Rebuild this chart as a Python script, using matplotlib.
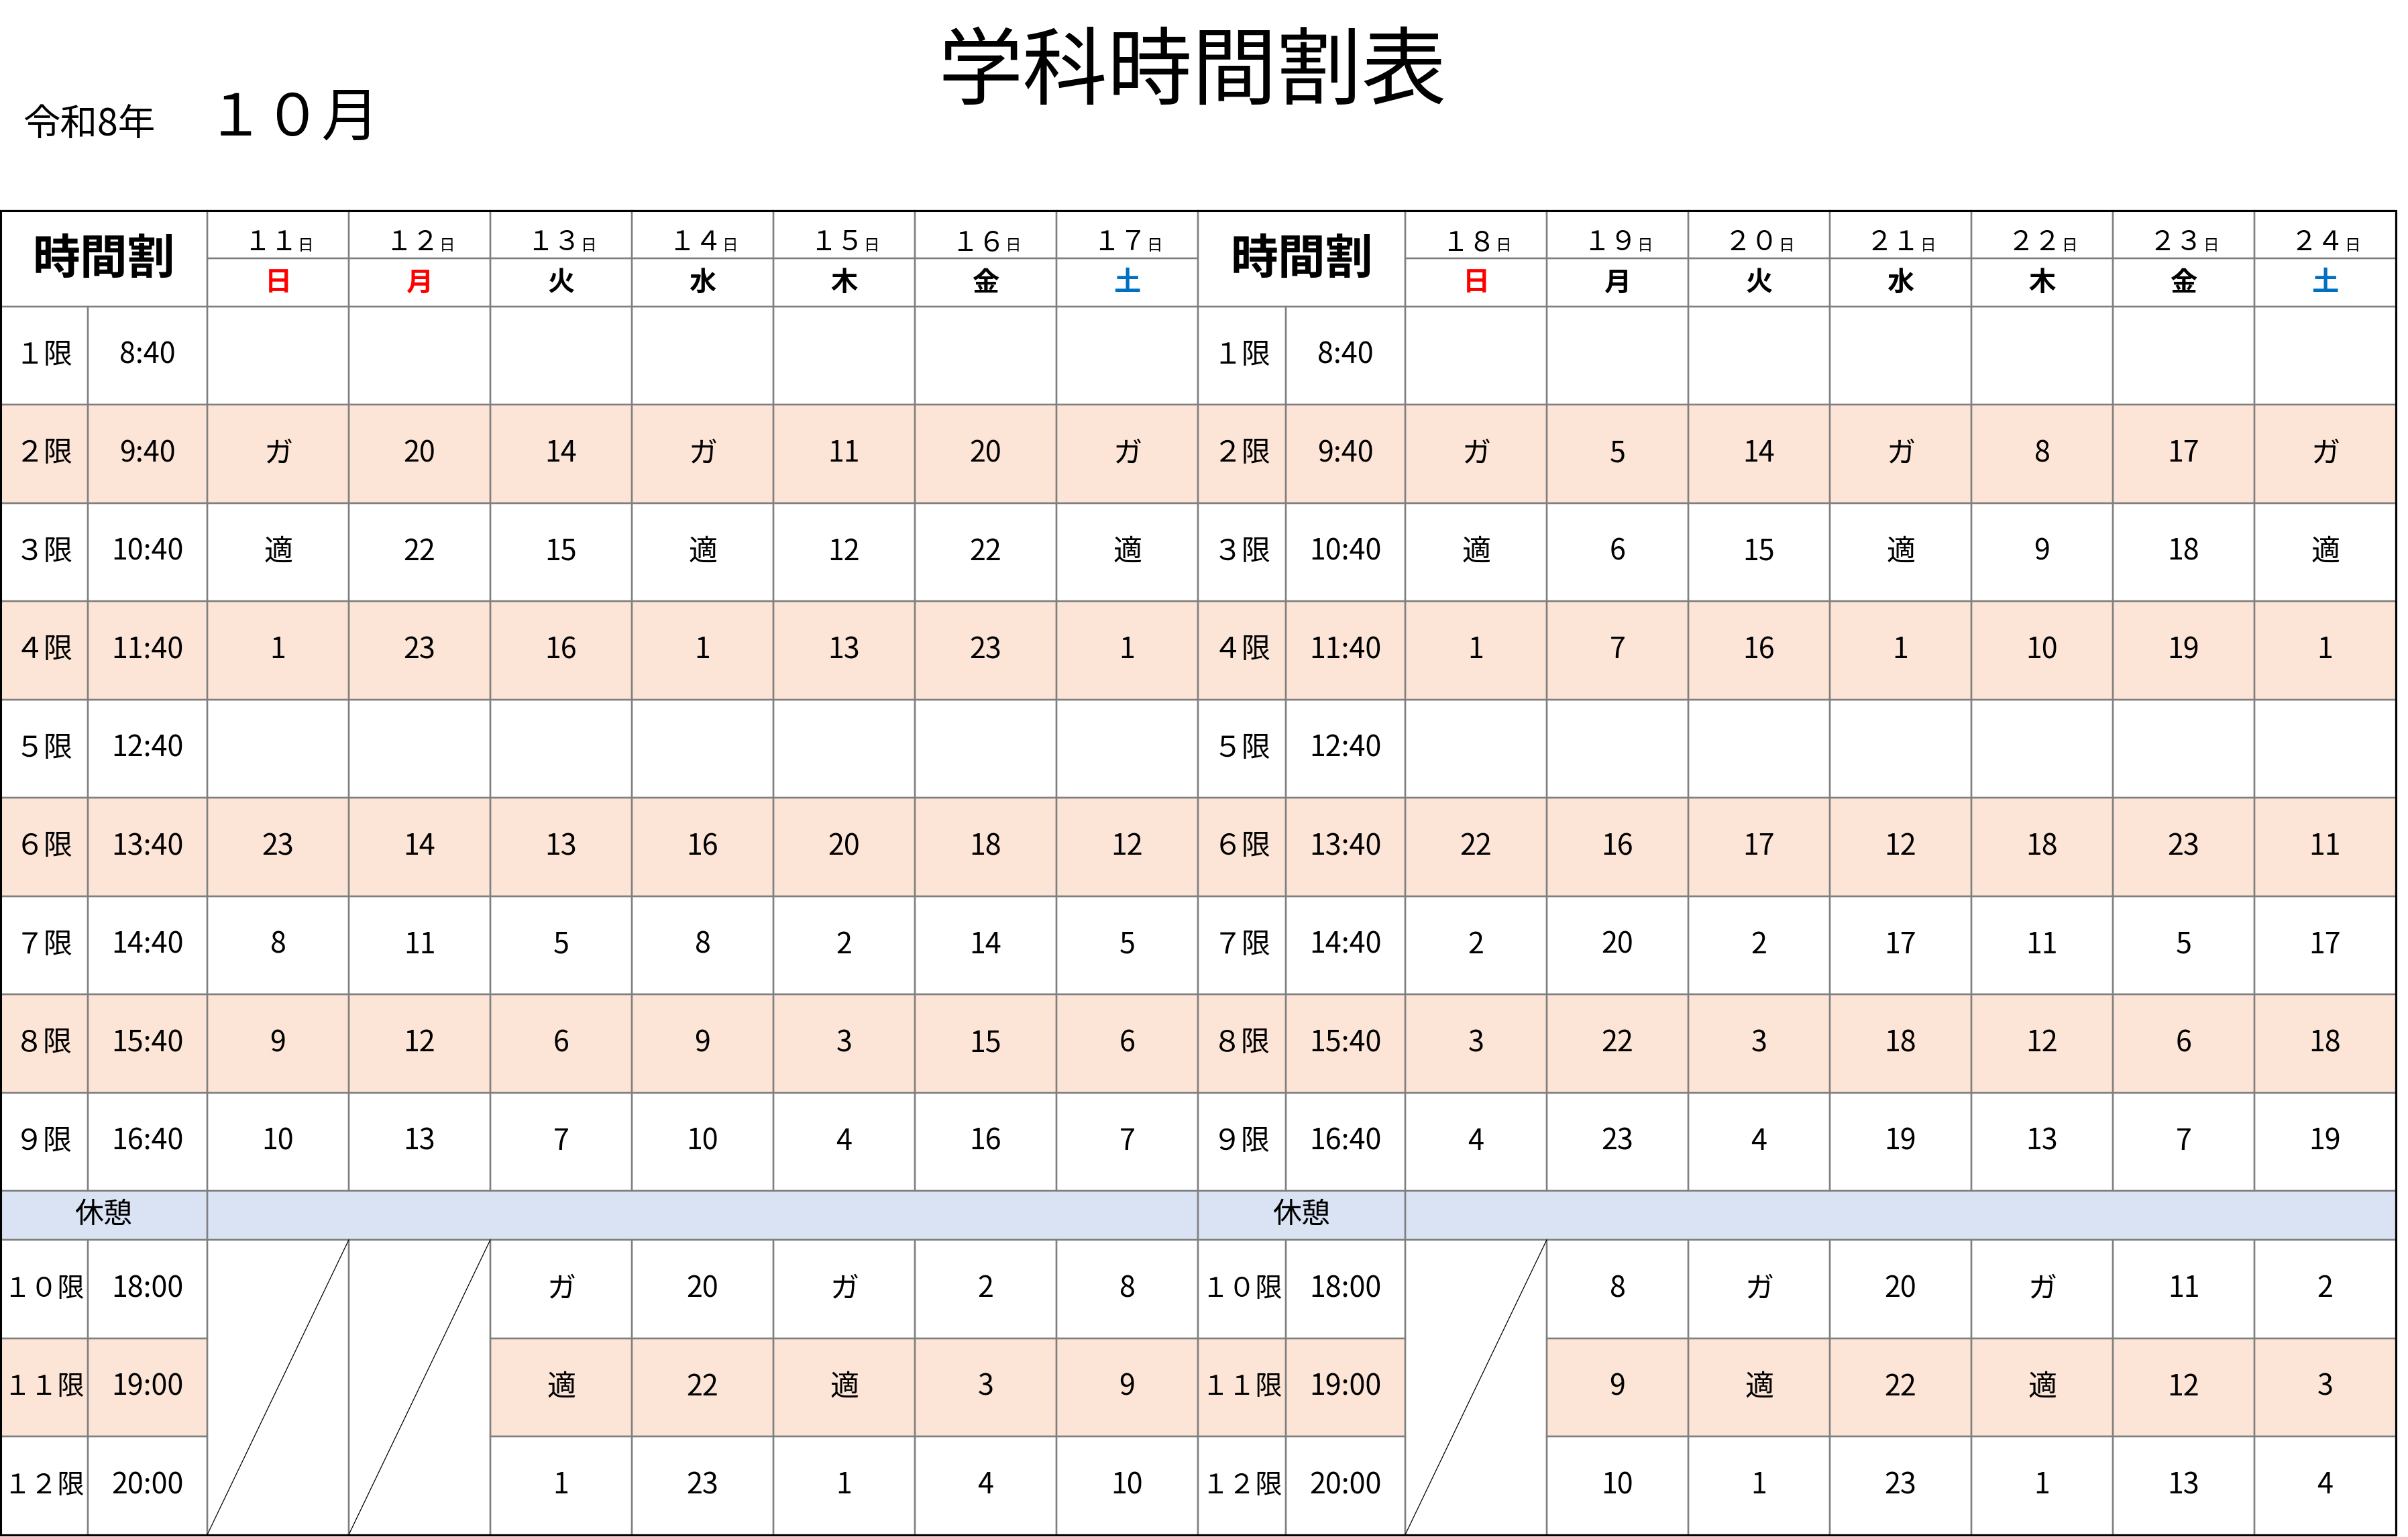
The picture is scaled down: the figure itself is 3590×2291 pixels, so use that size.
import matplotlib
matplotlib.use('Agg')
import matplotlib.pyplot as plt
from matplotlib.patches import Rectangle

plt.rcParams['font.family'] = ['Noto Sans CJK JP', 'DejaVu Sans']

# ---------------- data ----------------
title = '学科時間割表'
era_label = '令和8年'
month_label = '１０月'
header_label = '時間割'
break_label = '休憩'

period_labels = ['１限', '２限', '３限', '４限', '５限', '６限', '７限', '８限', '９限',
                 '１０限', '１１限', '１２限']
time_labels = ['8:40', '9:40', '10:40', '11:40', '12:40', '13:40', '14:40', '15:40', '16:40',
               '18:00', '19:00', '20:00']

block1_dates = ['１１', '１２', '１３', '１４', '１５', '１６', '１７']
block2_dates = ['１８', '１９', '２０', '２１', '２２', '２３', '２４']
weekdays = ['日', '月', '火', '水', '木', '金', '土']
block1_weekday_colors = ['#FF0000', '#FF0000', 'black', 'black', 'black', 'black', '#0070C0']
block2_weekday_colors = ['#FF0000', 'black', 'black', 'black', 'black', 'black', '#0070C0']

# periods 1-9 (one list per period, 7 days)
block1_day_rows = [
    ['', '', '', '', '', '', ''],
    ['ガ', '20', '14', 'ガ', '11', '20', 'ガ'],
    ['適', '22', '15', '適', '12', '22', '適'],
    ['1', '23', '16', '1', '13', '23', '1'],
    ['', '', '', '', '', '', ''],
    ['23', '14', '13', '16', '20', '18', '12'],
    ['8', '11', '5', '8', '2', '14', '5'],
    ['9', '12', '6', '9', '3', '15', '6'],
    ['10', '13', '7', '10', '4', '16', '7'],
]
block2_day_rows = [
    ['', '', '', '', '', '', ''],
    ['ガ', '5', '14', 'ガ', '8', '17', 'ガ'],
    ['適', '6', '15', '適', '9', '18', '適'],
    ['1', '7', '16', '1', '10', '19', '1'],
    ['', '', '', '', '', '', ''],
    ['22', '16', '17', '12', '18', '23', '11'],
    ['2', '20', '2', '17', '11', '5', '17'],
    ['3', '22', '3', '18', '12', '6', '18'],
    ['4', '23', '4', '19', '13', '7', '19'],
]
# evening periods 10-12 (None = merged, crossed-out cell)
block1_evening_rows = [
    [None, None, 'ガ', '20', 'ガ', '2', '8'],
    [None, None, '適', '22', '適', '3', '9'],
    [None, None, '1', '23', '1', '4', '10'],
]
block2_evening_rows = [
    [None, '8', 'ガ', '20', 'ガ', '11', '2'],
    [None, '9', '適', '22', '適', '12', '3'],
    [None, '10', '1', '23', '1', '13', '4'],
]

# ---------------- layout ----------------
W, H = 3590, 2291
fig = plt.figure(figsize=(W / 100, H / 100), dpi=100)
ax = fig.add_axes([0, 0, 1, 1])
ax.set_xlim(0, W)
ax.set_ylim(H, 0)
ax.axis('off')

PEACH = '#FCE4D6'
BLUE = '#DAE3F3'
GRID = '#7F7F7F'
GRID_LW = 1.7

top = 314.0
hdr_h = 142.5
row_h = 146.5
brk_h = 73.0
pw, tw, dw = 130.5, 178.5, 211.0
block_w = pw + tw + 7 * dw

fills = []
edges = []


def cell(x, y, w, h, fc='white', edge=True):
    fills.append(Rectangle((x, y), w, h, facecolor=fc, edgecolor='none', zorder=1))
    if edge:
        edges.append(Rectangle((x, y), w, h, facecolor='none', edgecolor=GRID,
                               lw=GRID_LW, zorder=3))


def txt(x, y, s, size=22, color='black', weight='normal', ha='center', va='center'):
    ax.text(x, y, s, fontsize=size, color=color, fontweight=weight, ha=ha, va=va, zorder=5)


CELL_FS = 31

blocks = [
    (0.0, block1_dates, block1_weekday_colors, block1_day_rows, block1_evening_rows),
    (block_w, block2_dates, block2_weekday_colors, block2_day_rows, block2_evening_rows),
]

for bx, dates, wcolors, day_rows, eve_rows in blocks:
    dx0 = bx + pw + tw
    # header
    cell(bx, top, pw + tw, hdr_h)
    txt(bx + (pw + tw) / 2, top + hdr_h / 2 + 2, header_label, size=51, weight='bold')
    sub_h = hdr_h / 2
    for k in range(7):
        x = dx0 + k * dw
        cx = x + dw / 2
        cell(x, top, dw, sub_h)
        cell(x, top + sub_h, dw, sub_h)
        txt(cx + 29, top + 59, dates[k], size=29, ha='right', va='baseline')
        txt(cx + 29, top + 59, '日', size=17, ha='left', va='baseline')
        txt(cx, top + sub_h + sub_h / 2 + 1, weekdays[k], size=29, weight='bold',
            color=wcolors[k])
    # periods 1-9
    for i in range(9):
        y = top + hdr_h + i * row_h
        fc = PEACH if i % 2 == 1 else 'white'
        cy = y + row_h / 2
        cell(bx, y, pw, row_h, fc)
        cell(bx + pw, y, tw, row_h, fc)
        txt(bx + pw / 2, cy, period_labels[i], size=CELL_FS)
        txt(bx + pw + tw / 2, cy, time_labels[i], size=CELL_FS)
        for k in range(7):
            x = dx0 + k * dw
            cell(x, y, dw, row_h, fc)
            if day_rows[i][k]:
                txt(x + dw / 2, cy, day_rows[i][k], size=CELL_FS)
    # break row
    yb = top + hdr_h + 9 * row_h
    cell(bx, yb, pw + tw, brk_h, BLUE)
    cell(dx0, yb, 7 * dw, brk_h, BLUE)
    txt(bx + (pw + tw) / 2, yb + brk_h / 2, break_label, size=CELL_FS)
    # evening periods 10-12
    ye = yb + brk_h
    for j in range(3):
        y = ye + j * row_h
        fc = PEACH if j == 1 else 'white'
        cy = y + row_h / 2
        cell(bx, y, pw, row_h, fc)
        cell(bx + pw, y, tw, row_h, fc)
        txt(bx + pw / 2, cy, period_labels[9 + j], size=29)
        txt(bx + pw + tw / 2, cy, time_labels[9 + j], size=CELL_FS)
        for k in range(7):
            x = dx0 + k * dw
            v = eve_rows[j][k]
            if v is None:
                continue
            cell(x, y, dw, row_h, fc)
            if v:
                txt(x + dw / 2, cy, v, size=CELL_FS)
    # merged crossed cells
    for k in range(7):
        if eve_rows[0][k] is None:
            x = dx0 + k * dw
            cell(x, ye, dw, 3 * row_h, 'white')
            ax.plot([x, x + dw], [ye + 3 * row_h, ye], color='black', lw=0.9, zorder=4)

for p in fills:
    ax.add_patch(p)
for p in edges:
    ax.add_patch(p)

table_h = hdr_h + 9 * row_h + brk_h + 3 * row_h
ax.add_patch(Rectangle((1, top), 2 * block_w - 1, table_h, facecolor='none',
                       edgecolor='black', lw=2.2, zorder=6))

# titles
txt(1777, 110, title, size=91)
txt(34, 186, era_label, size=40, ha='left')
txt(437, 177, month_label, size=62)

fig.savefig('out.png', dpi=100)
